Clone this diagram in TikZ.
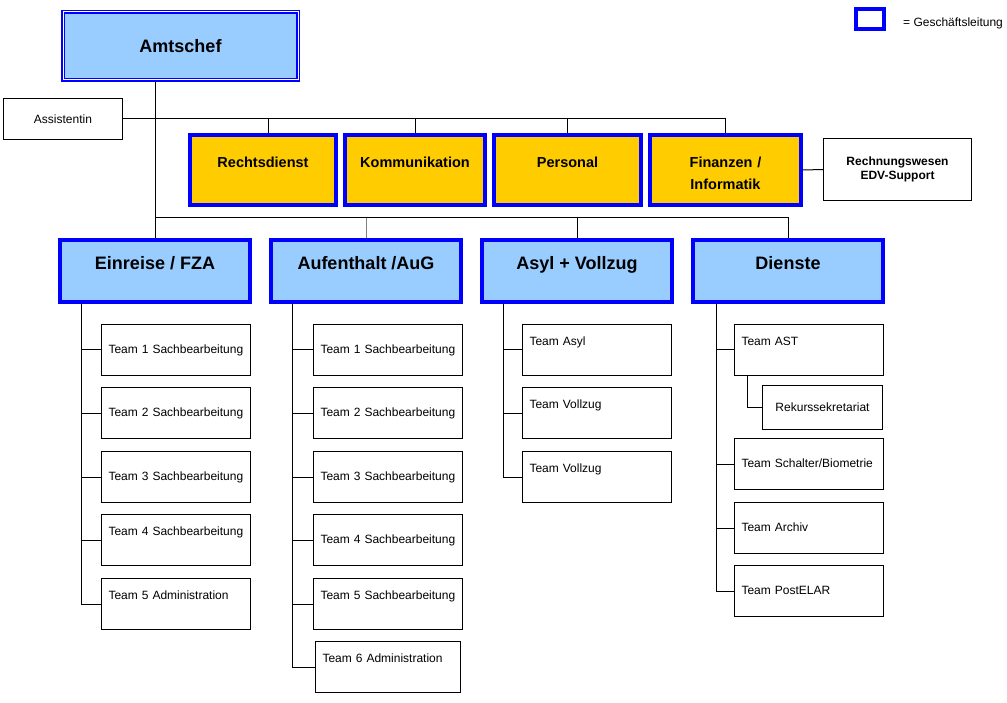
\documentclass[tikz,border=0pt]{standalone}
\usepackage{fontspec}
\setmainfont{Liberation Sans}

\definecolor{headblue}{HTML}{99CCFF}
\definecolor{staffgold}{HTML}{FFCC00}
\definecolor{glblue}{HTML}{0000FF}

\tikzset{
    chefbox/.style={draw=glblue, line width=1.5pt, double=white, double distance=1pt, outer sep=2pt, fill=headblue, anchor=north west, minimum width=235pt, minimum height=68pt, font=\fontsize{18}{21}\selectfont\bfseries},
    headbox/.style={draw=glblue, line width=4pt, fill=headblue, anchor=north west, inner sep=0pt, minimum width=190pt, text height=29.5pt, text depth=32.5pt, font=\fontsize{18}{21}\selectfont\bfseries},
    staffbox/.style={draw=glblue, line width=4pt, fill=staffgold, anchor=north west, inner sep=0pt, align=center, text height=33pt, text depth=37pt, font=\fontsize{14.5}{22}\selectfont\bfseries},
    plainbox/.style={draw, line width=1pt, fill=white, align=center, font=\fontsize{12}{14.5}\selectfont},
    teambox/.style={draw, line width=1pt, anchor=north west, inner xsep=7pt, inner ysep=0pt, text width=135pt, align=left, text height=29pt, text depth=22pt, font=\fontsize{12}{14}\selectfont},
    teamtop/.style={teambox, text height=21pt, text depth=30pt},
    link/.style={line width=1pt}
}

\begin{document}
\begin{tikzpicture}[x=1pt, y=-1pt]
    \path[use as bounding box, fill=white] (0, 0) rectangle (1007, 703);

    % Legend
    \node[draw=glblue, line width=4pt, fill=white, anchor=north west, minimum width=28pt, minimum height=20pt, inner sep=0pt] (legbox) at (854, 7) {};
    \node[anchor=base west, inner sep=0pt, font=\fontsize{12}{14}\selectfont] (legtxt) at (903, 26.3) {= Geschäftsleitung};

    % Top of the office
    \node[chefbox] (chef) at (61, 10) {Amtschef};
    \node[plainbox, minimum width=119pt, minimum height=41pt] (assist) at (63, 119) {Assistentin};

    % Staff units
    \node[staffbox, text width=146pt] (rechts) at (188, 133) {Rechtsdienst};
    \node[staffbox, text width=140pt] (komm) at (343, 133) {Kommunikation};
    \node[staffbox, text width=147pt] (pers) at (492, 133) {Personal};
    \node[staffbox, text width=151pt] (fin) at (648, 133) {Finanzen /\\Informatik};
    \node[plainbox, minimum width=148pt, minimum height=62pt, font=\fontsize{12}{14.5}\selectfont\bfseries] (rewe) at (897.5, 169.5) {Rechnungswesen\\EDV-Support};

    % Divisions
    \node[headbox] (einreise) at (58, 238) {Einreise / FZA};
    \node[headbox] (aufent) at (269, 238) {Aufenthalt /AuG};
    \node[headbox] (asyl) at (480, 238) {Asyl + Vollzug};
    \node[headbox] (dienste) at (691, 238) {Dienste};

    % Teams Einreise
    \node[teambox] (e1) at (101, 324) {Team 1 Sachbearbeitung};
    \node[teambox] (e2) at (101, 387) {Team 2 Sachbearbeitung};
    \node[teambox] (e3) at (101, 451) {Team 3 Sachbearbeitung};
    \node[teamtop] (e4) at (101, 514) {Team 4 Sachbearbeitung};
    \node[teamtop] (e5) at (101, 578) {Team 5 Administration};

    % Teams Aufenthalt
    \node[teambox] (a1) at (313, 324) {Team 1 Sachbearbeitung};
    \node[teambox] (a2) at (313, 387) {Team 2 Sachbearbeitung};
    \node[teambox] (a3) at (313, 451) {Team 3 Sachbearbeitung};
    \node[teambox] (a4) at (313, 514) {Team 4 Sachbearbeitung};
    \node[teamtop] (a5) at (313, 578) {Team 5 Sachbearbeitung};
    \node[teamtop, text width=131pt] (a6) at (315, 641) {Team 6 Administration};

    % Teams Asyl
    \node[teamtop] (s1) at (522, 324) {Team Asyl};
    \node[teamtop] (s2) at (522, 387) {Team Vollzug};
    \node[teamtop] (s3) at (522, 451) {Team Vollzug};

    % Teams Dienste
    \node[teamtop] (d1) at (734, 324) {Team AST};
    \node[plainbox, anchor=north west, minimum width=120pt, minimum height=44pt] (rekurs) at (762, 385) {Rekurssekretariat};
    \node[teambox] (d2) at (734, 438) {Team Schalter/Biometrie};
    \node[teambox] (d3) at (734, 502) {Team Archiv};
    \node[teambox] (d4) at (734, 565) {Team PostELAR};

    % Lines from the top
    \draw[link] (chef.south -| einreise.north) -- (einreise.north);
    \draw[link] (assist.east) -- (assist.east -| fin.north) -- (fin.north);
    \draw[link] ([xshift=5pt]rechts.north |- assist.east) -- ([xshift=5pt]rechts.north);
    \draw[link] (komm.north |- assist.east) -- (komm.north);
    \draw[link] (pers.north |- assist.east) -- (pers.north);
    \draw[link] (fin.east) -- (rewe.west);

    % Line to the divisions
    \coordinate (bus) at (155, 218);
    \draw[link] (bus) -- (bus -| dienste.north) -- (dienste.north);
    \draw[link, gray] (bus -| aufent.north) -- (aufent.north);
    \draw[link] (bus -| asyl.north) -- (asyl.north);

    % Lines to the teams
    \draw[link] ([xshift=23pt]einreise.south west) |- (e5.west);
    \draw[link] (e1.west -| e5.west) ++(-20, 0) -- (e1.west);
    \draw[link] (e2.west) ++(-20, 0) -- (e2.west);
    \draw[link] (e3.west) ++(-20, 0) -- (e3.west);
    \draw[link] (e4.west) ++(-20, 0) -- (e4.west);

    \draw[link] ([xshift=23pt]aufent.south west) |- (a6.west);
    \draw[link] (a1.west) ++(-21, 0) -- (a1.west);
    \draw[link] (a2.west) ++(-21, 0) -- (a2.west);
    \draw[link] (a3.west) ++(-21, 0) -- (a3.west);
    \draw[link] (a4.west) ++(-21, 0) -- (a4.west);
    \draw[link] (a5.west) ++(-21, 0) -- (a5.west);

    \draw[link] ([xshift=23pt]asyl.south west) |- (s3.west);
    \draw[link] (s1.west) ++(-19, 0) -- (s1.west);
    \draw[link] (s2.west) ++(-19, 0) -- (s2.west);

    \draw[link] ([xshift=25pt]dienste.south west) |- (d4.west);
    \draw[link] (d1.west) ++(-18, 0) -- (d1.west);
    \draw[link] (d2.west) ++(-18, 0) -- (d2.west);
    \draw[link] (d3.west) ++(-18, 0) -- (d3.west);
    \draw[link] ([xshift=13pt]d1.south west) |- (rekurs.west);
\end{tikzpicture}
\end{document}
